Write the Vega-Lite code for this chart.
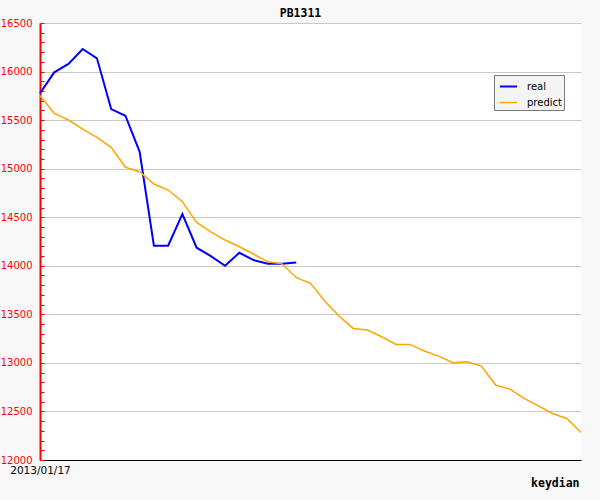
{
  "$schema": "https://vega.github.io/schema/vega-lite/v6.json",
  "autosize": {"type": "none"},
  "width": 541,
  "height": 437,
  "padding": {"left": 40, "top": 23, "right": 19, "bottom": 40},
  "background": "#f8f8f8",
  "title": {
    "text": "PB1311",
    "font": "DejaVu Sans Mono",
    "fontSize": 11.5,
    "fontWeight": "bold",
    "color": "#000000",
    "anchor": "middle",
    "frame": "group",
    "baseline": "alphabetic",
    "offset": 6,
    "dx": -10,
    "dy": 16
  },
  "data": {
    "values": [
      {"day": 0, "series": "real", "value": 15776},
      {"day": 1, "series": "real", "value": 15992},
      {"day": 2, "series": "real", "value": 16078},
      {"day": 3, "series": "real", "value": 16232},
      {"day": 4, "series": "real", "value": 16136},
      {"day": 5, "series": "real", "value": 15614},
      {"day": 6, "series": "real", "value": 15545},
      {"day": 7, "series": "real", "value": 15174},
      {"day": 8, "series": "real", "value": 14206},
      {"day": 9, "series": "real", "value": 14206},
      {"day": 10, "series": "real", "value": 14533},
      {"day": 11, "series": "real", "value": 14186},
      {"day": 12, "series": "real", "value": 14100},
      {"day": 13, "series": "real", "value": 14000},
      {"day": 14, "series": "real", "value": 14134},
      {"day": 15, "series": "real", "value": 14059},
      {"day": 16, "series": "real", "value": 14021},
      {"day": 17, "series": "real", "value": 14021},
      {"day": 18, "series": "real", "value": 14033},
      {"day": 0, "series": "predict", "value": 15751},
      {"day": 1, "series": "predict", "value": 15570},
      {"day": 2, "series": "predict", "value": 15501},
      {"day": 3, "series": "predict", "value": 15408},
      {"day": 4, "series": "predict", "value": 15323},
      {"day": 5, "series": "predict", "value": 15220},
      {"day": 6, "series": "predict", "value": 15014},
      {"day": 7, "series": "predict", "value": 14969},
      {"day": 8, "series": "predict", "value": 14842},
      {"day": 9, "series": "predict", "value": 14780},
      {"day": 10, "series": "predict", "value": 14660},
      {"day": 11, "series": "predict", "value": 14447},
      {"day": 12, "series": "predict", "value": 14350},
      {"day": 13, "series": "predict", "value": 14265},
      {"day": 14, "series": "predict", "value": 14196},
      {"day": 15, "series": "predict", "value": 14121},
      {"day": 16, "series": "predict", "value": 14041},
      {"day": 17, "series": "predict", "value": 14020},
      {"day": 18, "series": "predict", "value": 13877},
      {"day": 19, "series": "predict", "value": 13819},
      {"day": 20, "series": "predict", "value": 13637},
      {"day": 21, "series": "predict", "value": 13482},
      {"day": 22, "series": "predict", "value": 13355},
      {"day": 23, "series": "predict", "value": 13338},
      {"day": 24, "series": "predict", "value": 13269},
      {"day": 25, "series": "predict", "value": 13190},
      {"day": 26, "series": "predict", "value": 13190},
      {"day": 27, "series": "predict", "value": 13122},
      {"day": 28, "series": "predict", "value": 13070},
      {"day": 29, "series": "predict", "value": 13001},
      {"day": 30, "series": "predict", "value": 13012},
      {"day": 31, "series": "predict", "value": 12967},
      {"day": 32, "series": "predict", "value": 12772},
      {"day": 33, "series": "predict", "value": 12730},
      {"day": 34, "series": "predict", "value": 12634},
      {"day": 35, "series": "predict", "value": 12558},
      {"day": 36, "series": "predict", "value": 12479},
      {"day": 37, "series": "predict", "value": 12428},
      {"day": 38, "series": "predict", "value": 12284}
    ]
  },
  "mark": {"type": "line", "interpolate": "linear"},
  "encoding": {
    "x": {
      "field": "day",
      "type": "quantitative",
      "scale": {"domain": [0, 38], "nice": false, "zero": false},
      "axis": {
        "values": [0],
        "labelExpr": "'2013/01/17'",
        "ticks": false,
        "grid": false,
        "domainColor": "#000000",
        "domainWidth": 1,
        "labelFont": "DejaVu Sans",
        "labelFontSize": 10.5,
        "labelColor": "#000000",
        "labelPadding": 5,
        "labelFlush": false,
        "labelBound": false,
        "labelOverlap": false,
        "title": "keydian",
        "titleFont": "DejaVu Sans Mono",
        "titleFontWeight": "bold",
        "titleFontSize": 11.5,
        "titleColor": "#000000",
        "titleAlign": "right",
        "titleBaseline": "alphabetic",
        "titleAnchor": "end",
        "titleX": 539,
        "titleY": 26
      }
    },
    "y": {
      "field": "value",
      "type": "quantitative",
      "scale": {"domain": [12000, 16500], "nice": false, "zero": false},
      "axis": {
        "values": [12000,12100,12200,12300,12400,12500,12600,12700,12800,12900,13000,13100,13200,13300,13400,13500,13600,13700,13800,13900,14000,14100,14200,14300,14400,14500,14600,14700,14800,14900,15000,15100,15200,15300,15400,15500,15600,15700,15800,15900,16000,16100,16200,16300,16400,16500],
        "format": "d",
        "labelExpr": "datum.value % 500 === 0 ? datum.label : ''",
        "labelOverlap": false,
        "labelFlush": false,
        "labelBound": false,
        "labelColor": "#ff0000",
        "labelFont": "DejaVu Sans",
        "labelFontSize": 10,
        "labelPadding": 12,
        "labelBaseline": "middle",
        "domainColor": "#ff0000",
        "domainWidth": 2,
        "tickColor": "#ff0000",
        "tickSize": -4,
        "tickWidth": 1,
        "grid": true,
        "gridColor": "#c8c8c8",
        "gridWidth": 1,
        "gridOpacity": {"condition": {"test": "datum.value % 500 === 0", "value": 1}, "value": 0},
        "title": null
      }
    },
    "color": {
      "field": "series",
      "type": "nominal",
      "sort": ["real", "predict"],
      "scale": {"domain": ["real", "predict"], "range": ["#0000ff", "#ffa500"]},
      "legend": {
        "orient": "none",
        "legendX": 454,
        "legendY": 52,
        "direction": "vertical",
        "title": null,
        "fillColor": "#f4f4f4",
        "strokeColor": "#7a7a7a",
        "padding": 2,
        "symbolType": "stroke",
        "symbolSize": 289,
        "symbolStrokeWidth": 2,
        "symbolOffset": 3,
        "labelOffset": 9,
        "labelFont": "DejaVu Sans",
        "labelFontSize": 10,
        "labelColor": "#000000",
        "rowPadding": 1
      }
    },
    "strokeWidth": {
      "field": "series",
      "type": "nominal",
      "scale": {"domain": ["real", "predict"], "range": [2, 1.5]},
      "legend": null
    }
  },
  "config": {
    "view": {"fill": "#ffffff", "stroke": null}
  }
}
